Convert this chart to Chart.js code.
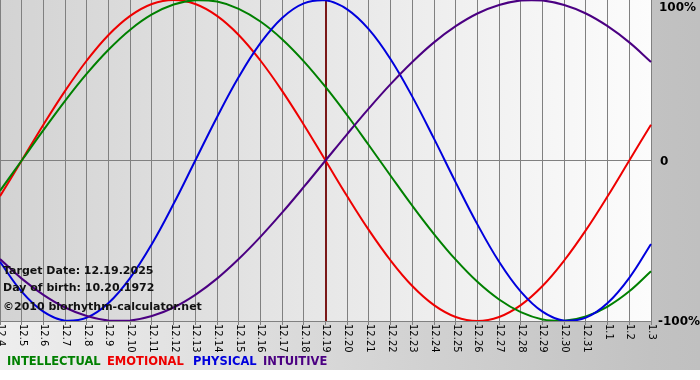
<!DOCTYPE html>
<html>
<head>
<meta charset="utf-8">
<script src="https://cdn.jsdelivr.net/npm/chart.js@4.4.1/dist/chart.umd.min.js"></script>
<style>
html,body{margin:0;padding:0;background:#fff;}
#wrap{width:700px;height:380px;}
</style>
</head>
<body>
<div id="wrap"><canvas id="c" width="700" height="380"></canvas></div>
<script>
const dayLabels = ['12.4','12.5','12.6','12.7','12.8','12.9','12.10','12.11','12.12','12.13','12.14','12.15','12.16','12.17','12.18','12.19','12.20','12.21','12.22','12.23','12.24','12.25','12.26','12.27','12.28','12.29','12.30','12.31','1.1','1.2','1.3'];
const intellectual = [-18.9,0,18.9,37.2,54.1,69.0,81.5,91.0,97.2,99.9,99.0,94.5,86.6,75.6,61.8,45.8,28.2,9.5,-9.5,-28.2,-45.8,-61.8,-75.6,-86.6,-94.5,-99.0,-99.9,-97.2,-91.0,-81.5,-69.0];
const emotional = [-22.3,0,22.3,43.4,62.3,78.2,90.1,97.5,100,97.5,90.1,78.2,62.3,43.4,22.3,0,-22.3,-43.4,-62.3,-78.2,-90.1,-97.5,-100,-97.5,-90.1,-78.2,-62.3,-43.4,-22.3,0,22.3];
const physical = [-63.1,-81.7,-94.2,-99.8,-97.9,-88.8,-73.1,-52.0,-27.0,0,27.0,52.0,73.1,88.8,97.9,99.8,94.2,81.7,63.1,39.8,13.6,-13.6,-39.8,-63.1,-81.7,-94.2,-99.8,-97.9,-88.8,-73.1,-52.0];
const intuitive = [-61.4,-73.6,-83.7,-91.6,-96.9,-99.7,-99.7,-96.9,-91.6,-83.7,-73.6,-61.4,-47.6,-32.5,-16.5,0,16.5,32.5,47.6,61.4,73.6,83.7,91.6,96.9,99.7,99.7,96.9,91.6,83.7,73.6,61.4];
const yTickValues = [100, 0, -100];
const yTickLabels = ['100%', '0', '-100%'];
const seriesNames = ['INTELLECTUAL','EMOTIONAL','PHYSICAL','INTUITIVE'];
const seriesColors = ['#008000','#ee0000','#0000dd','#4b0082'];
const legendX = [7, 107, 193, 263];
const targetIndex = 15;
const infoLines = ['Target Date: 12.19.2025','Day of birth: 10.20.1972','\u00A92010 biorhythm-calculator.net'];

const FONT = '"DejaVu Sans", Verdana, sans-serif';

const decor = {
  id: 'decor',
  beforeDraw(chart) {
    const ctx = chart.ctx, a = chart.chartArea;
    ctx.save();
    ctx.fillStyle = '#ffffff';
    ctx.fillRect(0, 0, chart.width, chart.height);
    let g = ctx.createLinearGradient(0, 0, chart.width, 0);
    g.addColorStop(0, '#eeeeee');
    g.addColorStop(0.93, '#c2c2c2');
    g.addColorStop(1, '#c0c0c0');
    ctx.fillStyle = g;
    ctx.fillRect(0, 0, chart.width, 370);
    g = ctx.createLinearGradient(a.left, 0, a.right, 0);
    g.addColorStop(0, '#d3d3d3');
    g.addColorStop(1, '#fcfcfc');
    ctx.fillStyle = g;
    ctx.fillRect(a.left, a.top, a.right - a.left, a.bottom - a.top);
    ctx.restore();
  },
  beforeDatasetsDraw(chart) {
    const ctx = chart.ctx, a = chart.chartArea, xs = chart.scales.x;
    const x = Math.round(xs.getPixelForValue(targetIndex));
    ctx.save();
    ctx.strokeStyle = '#7a1818';
    ctx.lineWidth = 2;
    ctx.beginPath();
    ctx.moveTo(x, a.top);
    ctx.lineTo(x, a.bottom);
    ctx.stroke();
    ctx.restore();
  },
  afterDatasetsDraw(chart) {
    const ctx = chart.ctx, a = chart.chartArea, xs = chart.scales.x, ys = chart.scales.y;
    ctx.save();
    ctx.fillStyle = '#000';
    ctx.font = '10px ' + FONT;
    ctx.textAlign = 'left';
    ctx.textBaseline = 'middle';
    dayLabels.forEach((lab, i) => {
      const x = xs.getPixelForValue(i);
      ctx.save();
      ctx.translate(x + 0.5, a.bottom + 3);
      ctx.rotate(Math.PI / 2);
      ctx.fillText(lab, 0, 0);
      ctx.restore();
    });
    ctx.font = 'bold 12px ' + FONT;
    ctx.textBaseline = 'middle';
    yTickValues.forEach((v, i) => {
      let y = ys.getPixelForValue(v);
      if (y < a.top + 7) y = a.top + 7;
      ctx.fillText(yTickLabels[i], a.right + (v === 0 ? 9 : (v > 0 ? 8 : 7)), y + 1);
    });
    ctx.fillStyle = '#111';
    ctx.font = 'bold 11px ' + FONT;
    ctx.textBaseline = 'middle';
    ctx.fillText(infoLines[0], 3, 271);
    ctx.fillText(infoLines[1], 3, 288);
    ctx.fillText(infoLines[2], 3, 307);
    ctx.font = 'bold 11.5px ' + FONT;
    seriesNames.forEach((n, i) => {
      ctx.fillStyle = seriesColors[i];
      ctx.fillText(n, legendX[i], 362);
    });
    ctx.restore();
  }
};

const mk = (name, data, color) => ({
  label: name, data, borderColor: color, backgroundColor: color,
  borderWidth: 2, pointRadius: 0, tension: 0.4, fill: false
});

new Chart(document.getElementById('c'), {
  type: 'line',
  data: {
    labels: dayLabels,
    datasets: [
      mk(seriesNames[3], intuitive, seriesColors[3]),
      mk(seriesNames[2], physical, seriesColors[2]),
      mk(seriesNames[0], intellectual, seriesColors[0]),
      mk(seriesNames[1], emotional, seriesColors[1])
    ]
  },
  options: {
    responsive: false,
    animation: false,
    devicePixelRatio: 1,
    layout: { padding: 0 },
    plugins: { legend: { display: false }, tooltip: { enabled: false } },
    scales: {
      x: {
        offset: false,
        ticks: { display: false, autoSkip: false },
        grid: { color: '#808080', lineWidth: 1, drawTicks: true, tickLength: 4, tickColor: '#808080' },
        border: { display: true, color: '#808080', width: 1 },
        afterFit(s) { s.height = 59; }
      },
      y: {
        position: 'right',
        min: -100, max: 100,
        afterBuildTicks(s) { s.ticks = yTickValues.map(v => ({ value: v })); },
        ticks: { display: false },
        grid: { drawTicks: false, color: c => (c.tick && c.tick.value === 0) ? '#808080' : 'rgba(0,0,0,0)' },
        border: { display: false },
        afterFit(s) { s.width = 49; }
      }
    }
  },
  plugins: [decor]
});
</script>
</body>
</html>
